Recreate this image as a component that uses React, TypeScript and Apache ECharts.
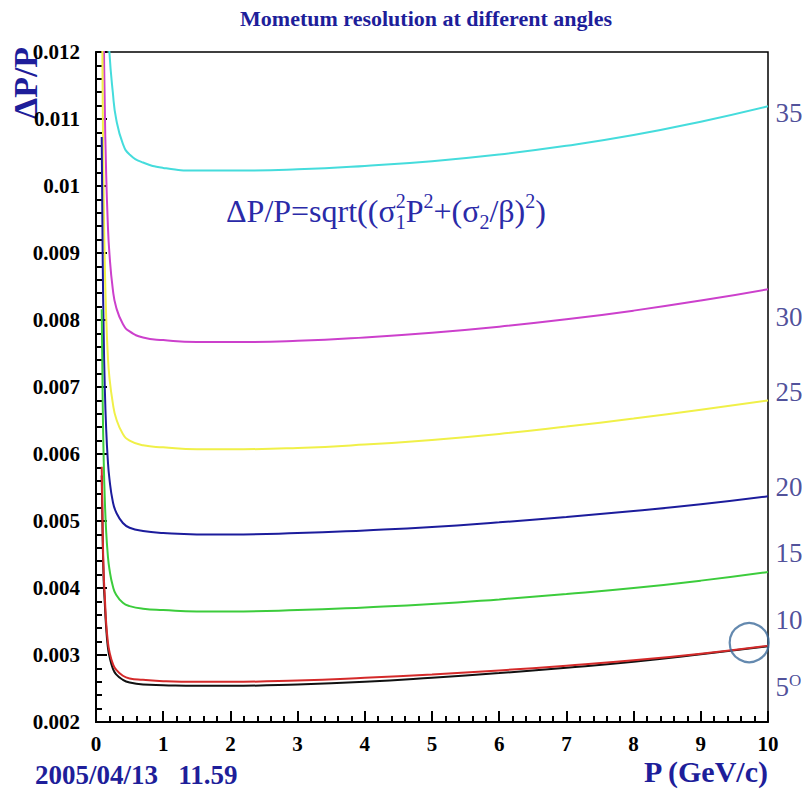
import React, { useEffect, useRef } from "react";
import * as echarts from "echarts";

// momentum grid (GeV/c)
const momentum = [0.085, 0.1, 0.115, 0.13, 0.15, 0.175, 0.2, 0.25, 0.3, 0.4, 0.5, 0.7, 1, 1.5, 2, 3, 4, 5, 6, 7, 8, 9, 10];

// ΔP/P for each polar angle
const res35 = [0.02286, 0.01893, 0.01653, 0.01499, 0.01366, 0.01262, 0.01199, 0.0114, 0.011, 0.01063, 0.01047, 0.01035, 0.01027, 0.01023, 0.01023, 0.01025, 0.0103, 0.01037, 0.01047, 0.0106, 0.01076, 0.01096, 0.01119];
const res30 = [0.01714, 0.01419, 0.01239, 0.01124, 0.01024, 0.00946, 0.00899, 0.00846, 0.00819, 0.00794, 0.00783, 0.00774, 0.0077, 0.00767, 0.00767, 0.00769, 0.00774, 0.00781, 0.0079, 0.00801, 0.00814, 0.00829, 0.00846];
const res25 = [0.01357, 0.01123, 0.00981, 0.00889, 0.0081, 0.00749, 0.00714, 0.00676, 0.00653, 0.0063, 0.0062, 0.00613, 0.0061, 0.00607, 0.00607, 0.00609, 0.00614, 0.00621, 0.0063, 0.00641, 0.00653, 0.00666, 0.0068];
const res20 = [0.01073, 0.00888, 0.00776, 0.00703, 0.00641, 0.00592, 0.00563, 0.00529, 0.00513, 0.00497, 0.0049, 0.00485, 0.00482, 0.0048, 0.0048, 0.00482, 0.00486, 0.00491, 0.00498, 0.00506, 0.00515, 0.00525, 0.00537];
const res15 = [0.00816, 0.00675, 0.0059, 0.00535, 0.00487, 0.0045, 0.00428, 0.00403, 0.0039, 0.00378, 0.00373, 0.00369, 0.00367, 0.00365, 0.00365, 0.00367, 0.00371, 0.00376, 0.00383, 0.00391, 0.004, 0.00411, 0.00424];
const res10 = [0.00581, 0.00481, 0.0042, 0.0039, 0.0035, 0.00321, 0.00305, 0.00287, 0.00278, 0.00269, 0.00265, 0.00263, 0.00261, 0.0026, 0.0026, 0.00262, 0.00266, 0.00271, 0.00277, 0.00284, 0.00292, 0.00302, 0.00314];
const res5 = [0.00568, 0.0047, 0.0041, 0.00379, 0.00343, 0.00313, 0.00298, 0.0028, 0.00271, 0.00263, 0.00259, 0.00256, 0.00255, 0.00254, 0.00254, 0.00256, 0.0026, 0.00266, 0.00273, 0.00281, 0.0029, 0.00301, 0.00313];

const seriesNames = ["35°", "30°", "25°", "20°", "15°", "10°", "5°"];
const seriesColors = ["#45dcdc", "#cc40cc", "#f0f048", "#1c1c9c", "#3ccc3c", "#d42a2a", "#111111"];

// angle labels on the right side
const angleLabelTexts = ["35", "30", "25", "20", "15", "10", "5"];
const angleLabelDegree = ["", "", "", "", "", "", "O"];
const angleLabelY = [0.01109, 0.008045, 0.006925, 0.005507, 0.00452, 0.00352, 0.00252];

// highlighted point (circle annotation)
const highlightPoint = [[9.72, 0.003184]];

const yTickLabels = ["0.002", "0.003", "0.004", "0.005", "0.006", "0.007", "0.008", "0.009", "0.01", "0.011", "0.012"];
const xTickLabels = ["0", "1", "2", "3", "4", "5", "6", "7", "8", "9", "10"];

const X_MIN = 0, X_MAX = 10, X_MAJOR = 1, X_MINOR_DIV = 5;
const Y_MIN = 0.002, Y_MAX = 0.012, Y_MAJOR = 0.001, Y_MINOR_DIV = 5;

const SERIF = '"Liberation Serif", "DejaVu Serif", serif';
const NAVY = "#1e1e9a";

export default function App() {
  const ref = useRef<HTMLDivElement>(null);

  useEffect(() => {
    document.body.style.margin = "0";
    if (!ref.current) return;
    const chart = echarts.init(ref.current, undefined, { renderer: "svg" });

    // draw order: cyan, magenta, yellow, blue, green, black, red
    const order = [0, 1, 2, 3, 4, 6, 5];
    const allCurves = [res35, res30, res25, res20, res15, res10, res5];
    const lineSeries = order.map((k, i) => ({
      type: "line",
      name: seriesNames[k],
      data: momentum.map((p, j) => [p, allCurves[k][j]]),
      showSymbol: false,
      smooth: 0.5,
      clip: true,
      lineStyle: { color: seriesColors[k], width: 2 },
      z: 3 + i,
    }));

    const tickStyle = { color: "#000", width: 2 };

    const option: any = {
      animation: false,
      grid: {
        left: 96,
        right: 40,
        top: 52,
        bottom: 67,
        show: true,
        borderColor: "#000",
        borderWidth: 1.5,
      },
      xAxis: {
        type: "value",
        min: X_MIN,
        max: X_MAX,
        interval: X_MAJOR,
        axisLine: { show: true, onZero: false, lineStyle: { color: "#000", width: 2 } },
        axisTick: { show: true, inside: true, length: 11, lineStyle: tickStyle },
        minorTick: { show: true, splitNumber: X_MINOR_DIV, length: 6, lineStyle: tickStyle },
        splitLine: { show: false },
        minorSplitLine: { show: false },
        axisLabel: {
          formatter: (v: number) => xTickLabels[Math.round(v)],
          fontFamily: SERIF,
          fontWeight: "bold",
          fontSize: 21,
          color: "#000",
          margin: 11,
        },
      },
      yAxis: {
        type: "value",
        min: Y_MIN,
        max: Y_MAX,
        interval: Y_MAJOR,
        axisLine: { show: true, onZero: false, lineStyle: { color: "#000", width: 2 } },
        axisTick: { show: true, inside: true, length: 11, lineStyle: tickStyle },
        minorTick: { show: true, splitNumber: Y_MINOR_DIV, length: 6, lineStyle: tickStyle },
        splitLine: { show: false },
        minorSplitLine: { show: false },
        axisLabel: {
          formatter: (v: number) => yTickLabels[Math.round((v - Y_MIN) / Y_MAJOR)],
          fontFamily: SERIF,
          fontWeight: "bold",
          fontSize: 21,
          color: "#000",
          margin: 16,
        },
      },
      series: [
        ...lineSeries,
        {
          type: "scatter",
          name: "highlight",
          data: highlightPoint,
          symbol: "circle",
          symbolSize: 39,
          clip: false,
          itemStyle: { color: "rgba(0,0,0,0)", borderColor: "#3d6b9b", borderWidth: 2.2 },
          z: 20,
        },
        {
          type: "scatter",
          name: "angles",
          data: angleLabelY.map((y) => [X_MAX, y]),
          symbolSize: 1,
          clip: false,
          itemStyle: { color: "rgba(0,0,0,0)" },
          label: {
            show: true,
            position: "right",
            distance: 7,
            formatter: (p: any) =>
              angleLabelDegree[p.dataIndex]
                ? `{n|${angleLabelTexts[p.dataIndex]}}{d|${angleLabelDegree[p.dataIndex]}}`
                : `{n|${angleLabelTexts[p.dataIndex]}}`,
            rich: {
              n: { fontFamily: SERIF, fontSize: 27, color: "#22227f", lineHeight: 30 },
              d: { fontFamily: SERIF, fontSize: 17, color: "#22227f", lineHeight: 15, verticalAlign: "top" },
            },
          },
          z: 20,
        },
      ],
      graphic: [
        {
          type: "text",
          x: 426,
          y: 18,
          style: {
            text: "Mometum resolution at different angles",
            font: `bold 22px ${SERIF}`,
            fill: NAVY,
            align: "center",
            verticalAlign: "middle",
          },
        },
        {
          type: "text",
          x: 25,
          y: 83,
          rotation: Math.PI / 2,
          style: {
            text: "ΔP/P",
            font: `bold 34px ${SERIF}`,
            fill: NAVY,
            align: "center",
            verticalAlign: "middle",
          },
        },
        {
          type: "text",
          x: 768,
          y: 771,
          style: {
            text: "P (GeV/c)",
            font: `bold 30px ${SERIF}`,
            fill: NAVY,
            align: "right",
            verticalAlign: "middle",
          },
        },
        {
          type: "text",
          x: 35,
          y: 775,
          style: {
            text: "2005/04/13   11.59",
            font: `bold 27px ${SERIF}`,
            fill: NAVY,
            align: "left",
            verticalAlign: "middle",
          },
        },
        {
          type: "text",
          x: 226,
          y: 211,
          style: {
            text: "{m|ΔP/P=sqrt((σ}{s1|1}{u|2}{m|P}{u|2}{m|+(σ}{s|2}{m|/β)}{u|2}{m|)}",
            align: "left",
            verticalAlign: "middle",
            rich: {
              m: { fontFamily: SERIF, fontSize: 32, fill: "#2a2aa8", lineHeight: 41, verticalAlign: "middle" },
              u: { fontFamily: SERIF, fontSize: 20, fill: "#2a2aa8", lineHeight: 20, verticalAlign: "top" },
              s: { fontFamily: SERIF, fontSize: 20, fill: "#2a2aa8", lineHeight: 20, verticalAlign: "bottom" },
              s1: { fontFamily: SERIF, fontSize: 20, fill: "#2a2aa8", lineHeight: 20, verticalAlign: "bottom", width: 0 },
            },
          },
        },
      ],
    };

    chart.setOption(option);
    return () => chart.dispose();
  }, []);

  return <div ref={ref} style={{ width: 808, height: 789 }} />;
}
